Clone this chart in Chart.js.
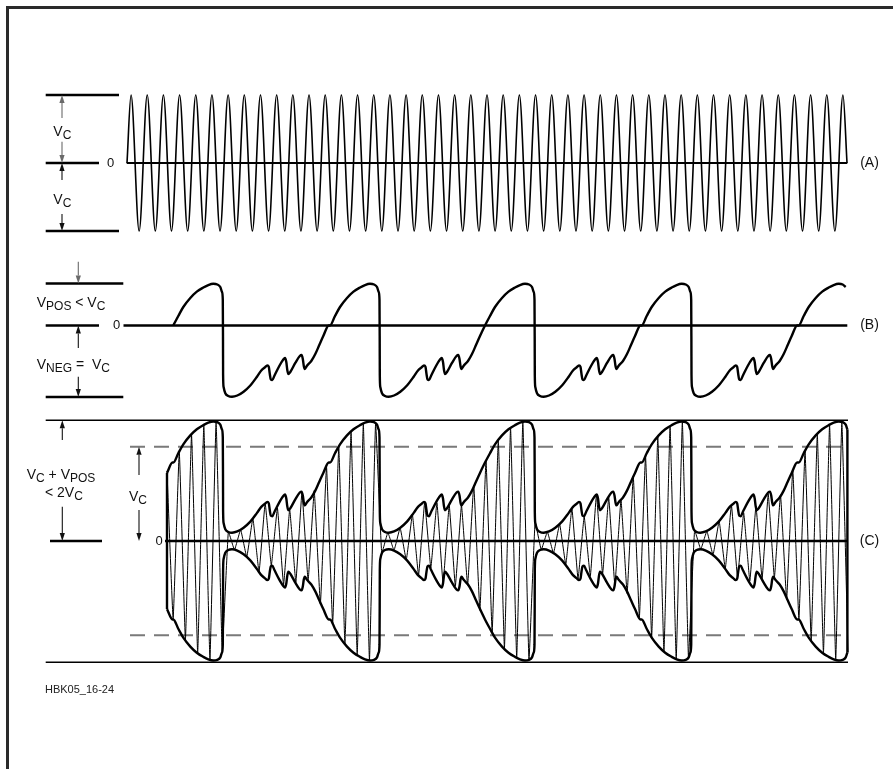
<!DOCTYPE html>
<html>
<head>
<meta charset="utf-8">
<script src="https://cdn.jsdelivr.net/npm/chart.js@4.4.1/dist/chart.umd.min.js"></script>
<style>
  html, body { margin: 0; padding: 0; background: #fff; }
  #wrap { position: relative; width: 893px; height: 769px; overflow: hidden; }
  #wrap canvas { position: absolute; left: 0; top: 0; }
  #frame { position: absolute; left: 6px; top: 6px; right: -10px; bottom: -10px;
           border-left: 3px solid #2a2a2a; border-top: 3px solid #2a2a2a; }
</style>
</head>
<body>
<div id="wrap">
  <canvas id="chart" width="893" height="769"></canvas>
  <div id="frame"></div>
</div>
<script>
// Time axis in µs; every amplitude is in units of the carrier peak V_C.

// (A) unmodulated carrier: successive extremes, starting and ending on zero
const carrierA = [0,
  1,-1, 1,-1, 1,-1, 1,-1, 1,-1, 1,-1, 1,-1, 1,-1, 1,-1, 1,-1, 1,-1,
  1,-1, 1,-1, 1,-1, 1,-1, 1,-1, 1,-1, 1,-1, 1,-1, 1,-1, 1,-1, 1,-1,
  1,-1, 1,-1, 1,-1, 1,-1, 1,-1, 1,-1, 1,-1, 1,-1, 1,-1, 1,-1, 1,-1,
  1,-1, 1,-1, 1,-1, 1,-1, 1,-1, 1,-1, 1,-1, 1,-1, 1,-1, 1,-1, 1,-1,
  1, 0];
const carrierAStart = 0;
const carrierAHalfPeriod = 8.09;

// (B) modulating (speech-like) waveform: one period as [µs from upward zero crossing, value]
const modCycle = [
  [0,0],[5,0.133],[10,0.259],[17,0.385],[23.5,0.473],[30,0.531],[35,0.566],[40,0.583],
  [44,0.573],[47,0.538],[48.7,0.469],[49.5,0.357],[49.7,-0.203],[49.8,-0.692],[50.3,-0.860],
  [52,-0.948],[55,-0.986],[58.7,-0.996],[64,-0.979],[70.3,-0.926],[77,-0.839],[83.7,-0.716],
  [88,-0.629],[91.5,-0.587],[94,-0.559],[95.5,-0.580],[96.5,-0.678],[97.5,-0.755],[99,-0.762],
  [101,-0.706],[106,-0.566],[110,-0.476],[111.7,-0.455],[113,-0.510],[114,-0.622],[115,-0.678],
  [117,-0.650],[122,-0.524],[126.5,-0.427],[128.3,-0.413],[129.5,-0.469],[130.5,-0.566],
  [131.5,-0.608],[133.5,-0.566],[138,-0.496],[142,-0.399],[146,-0.273],[150,-0.147],[155.5,0]
];
const modCycleStarts = [46.3, 203, 358, 514.7, 671.7];
const modWindow = [46.3, 719.9];

// (C) upper envelope of the modulated carrier over one modulation period
const envCycle = [
  [0,0.832],[5,0.931],[10,1.025],[17,1.120],[23.5,1.185],[30,1.229],[35,1.255],[40,1.268],
  [44,1.261],[47,1.234],[48.7,1.182],[49.5,1.099],[49.7,0.681],[49.8,0.315],[50.3,0.190],
  [52,0.124],[55,0.096],[58.7,0.088],[64,0.101],[70.3,0.141],[77,0.205],[83.7,0.298],
  [88,0.362],[91.5,0.393],[94,0.415],[95.5,0.399],[96.5,0.326],[97.5,0.268],[99,0.263],
  [101,0.305],[106,0.409],[110,0.477],[111.7,0.493],[113,0.451],[114,0.367],[115,0.326],
  [117,0.347],[122,0.441],[126.5,0.514],[128.3,0.524],[129.5,0.482],[130.5,0.409],
  [131.5,0.378],[133.5,0.409],[138,0.461],[142,0.534],[146,0.629],[150,0.722],[155.5,0.832]
];
const envCycleStarts = [-110, 46.3, 203, 358, 514.7, 671.7];
const envWindow = [40, 721];

// (C) modulated carrier: successive extremes
const carrierC = [
  0.74,-0.83,0.95,-1.05,1.13,-1.19,1.23,-1.26,1.265,-1.17,
  0.10,-0.095,0.12,-0.17,0.24,-0.33,0.40,-0.26,0.35,-0.465,
  0.335,-0.44,0.52,-0.42,0.535,-0.67,0.79,-0.88,1.00,-1.09,
  1.165,-1.21,1.245,-1.267,1.25,-0.13,0.09,-0.10,0.14,-0.20,
  0.28,-0.365,0.41,-0.285,0.405,-0.45,0.38,-0.48,0.38,-0.47,
  0.59,-0.735,0.85,-0.97,1.07,-1.14,1.20,-1.24,1.262,-1.262,
  0.20,-0.093,0.097,-0.13,0.18,-0.25,0.345,-0.405,0.26,-0.375,
  0.49,-0.35,0.46,-0.47,0.44,-0.556,0.69,-0.81,0.905,-1.02,
  1.105,-1.175,1.217,-1.252,1.267,-1.24,0.115,-0.088,0.105,-0.15,
  0.21,-0.295,0.38,-0.39,0.30,-0.425,0.37,-0.40,0.50,-0.39,
  0.49,-0.62,0.76,-0.832,0.955,-1.055,1.135,-1.19,1.232,-1.26,
  1.265,-1.18
];
const carrierCStart = 40;
const carrierCHalfPeriod = 6.135;

// Reference levels (V_C units)
const levelB = { pos: 0.587, neg: -1 };
const levelC = { max: 1.28, min: -1.286, vc: 1 };

// ---------- series tables ----------
function periodic(shape, starts, w0, w1) {
  const pts = [];
  starts.forEach((s, i) => {
    const next = i + 1 < starts.length ? starts[i + 1] : Infinity;
    shape.forEach(([dx, v]) => {
      const t = s + dx;
      if (t >= w0 && t <= w1 && t < next) pts.push({ x: t, y: v });
    });
  });
  return pts;
}
const nA = carrierA.length;
const seriesA = carrierA.map((v, k) => ({
  x: carrierAStart + (k === 0 ? 0 : k === nA - 1 ? (nA - 2) * carrierAHalfPeriod : (k - 0.5) * carrierAHalfPeriod),
  y: v
}));
const seriesB = periodic(modCycle, modCycleStarts, modWindow[0], modWindow[1]);
const envUpper = periodic(envCycle, envCycleStarts, envWindow[0], envWindow[1]);
const envLower = envUpper.map(p => ({ x: p.x, y: -p.y }));
const envStart = [envUpper[0], envLower[0]];
const envEnd = [envUpper[envUpper.length - 1], envLower[envLower.length - 1]];
const seriesC = carrierC.map((v, k) => ({ x: carrierCStart + k * carrierCHalfPeriod, y: v }));

// ---------- annotation layout (data coordinates) ----------
const refLines = [
  { axis: 'yA', v: 1, from: -81.3, to: -8, w: 2.4 },
  { axis: 'yA', v: 0, from: -81.3, to: -28, w: 2.4 },
  { axis: 'yA', v: -1, from: -81.3, to: -8, w: 2.4 },
  { axis: 'yA', v: 0, from: -0.3, to: 720.3, w: 2.2 },
  { axis: 'yB', v: levelB.pos, from: -81.3, to: -3.7, w: 2.4 },
  { axis: 'yB', v: 0, from: -81.3, to: -28, w: 2.4 },
  { axis: 'yB', v: levelB.neg, from: -81.3, to: -3.7, w: 2.4 },
  { axis: 'yB', v: 0, from: -3.5, to: 720.3, w: 2.4 },
  { axis: 'yC', v: levelC.max, from: -81.3, to: 721, w: 1.4 },
  { axis: 'yC', v: levelC.min, from: -81.3, to: 721, w: 1.4 },
  { axis: 'yC', v: levelC.vc, from: 3, to: 721, w: 2, color: '#7a7a7a', dash: [15, 9] },
  { axis: 'yC', v: -levelC.vc, from: 3, to: 721, w: 2, color: '#7a7a7a', dash: [15, 9] },
  { axis: 'yC', v: 0, from: -77, to: -25, w: 2.4 },
  { axis: 'yC', v: 0, from: 38, to: 721, w: 2.4 }
];
const arrows = [
  { axis: 'yA', t: -65, from: 0.662, to: 1, color: '#6a6a6a' },
  { axis: 'yA', t: -65, from: 0.313, to: 0, color: '#6a6a6a' },
  { axis: 'yA', t: -65, from: -0.25, to: 0, color: '#111' },
  { axis: 'yA', t: -65, from: -0.75, to: -1, color: '#111' },
  { axis: 'yB', t: -48.7, from: 0.892, to: levelB.pos, color: '#6a6a6a' },
  { axis: 'yB', t: -48.7, from: -0.315, to: 0, color: '#111' },
  { axis: 'yB', t: -48.7, from: -0.716, to: -1, color: '#111' },
  { axis: 'yC', t: -64.7, from: 1.071, to: levelC.max, color: '#111' },
  { axis: 'yC', t: -64.7, from: 0.364, to: 0, color: '#111' },
  { axis: 'yC', t: 12, from: 0.70, to: 1, color: '#111' },
  { axis: 'yC', t: 12, from: 0.329, to: 0, color: '#111' }
];
const richLabels = [
  { axis: 'yA', t: -73.7, v: 0.46, parts: [['V', 0], ['C', 1]] },
  { axis: 'yA', t: -73.7, v: -0.544, parts: [['V', 0], ['C', 1]] },
  { axis: 'yB', t: -90.3, v: 0.308, parts: [['V', 0], ['POS', 1], [' < V', 0], ['C', 1]] },
  { axis: 'yB', t: -90.3, v: -0.552, parts: [['V', 0], ['NEG', 1], [' =  V', 0], ['C', 1]] },
  { axis: 'yC', t: -100.3, v: 0.70, parts: [['V', 0], ['C', 1], [' + V', 0], ['POS', 1]] },
  { axis: 'yC', t: -82, v: 0.509, parts: [['< 2V', 0], ['C', 1]] },
  { axis: 'yC', t: 2, v: 0.467, parts: [['V', 0], ['C', 1]] }
];
const plainLabels = [
  { axis: 'yA', t: -16.3, v: 0, text: '0', size: 13, align: 'center' },
  { axis: 'yB', t: -10.3, v: 0, text: '0', size: 13, align: 'center' },
  { axis: 'yC', t: 32, v: 0, text: '0', size: 13, align: 'center' },
  { axis: 'yA', t: 742.5, v: 0, text: '(A)', size: 14, align: 'center' },
  { axis: 'yB', t: 742.5, v: 0, text: '(B)', size: 14, align: 'center' },
  { axis: 'yC', t: 742.5, v: 0, text: '(C)', size: 14, align: 'center' },
  { axis: 'yC', t: -82, v: -1.585, text: 'HBK05_16-24', size: 11, align: 'left', color: '#222' }
];

const FONT = '"Liberation Sans", Arial, Helvetica, sans-serif';

const annotations = {
  id: 'annotations',
  beforeDatasetsDraw(chart) {
    const { ctx, scales } = chart;
    ctx.save();
    refLines.forEach(r => {
      const y = scales[r.axis].getPixelForValue(r.v);
      ctx.beginPath();
      ctx.lineWidth = r.w;
      ctx.strokeStyle = r.color || '#000';
      ctx.setLineDash(r.dash || []);
      ctx.moveTo(scales.x.getPixelForValue(r.from), y);
      ctx.lineTo(scales.x.getPixelForValue(r.to), y);
      ctx.stroke();
    });
    ctx.restore();
  },
  afterDatasetsDraw(chart) {
    const { ctx, scales } = chart;
    ctx.save();
    arrows.forEach(a => {
      const x = scales.x.getPixelForValue(a.t);
      const y0 = scales[a.axis].getPixelForValue(a.from);
      const y1 = scales[a.axis].getPixelForValue(a.to);
      const dir = Math.sign(y1 - y0), head = 8, half = 2.6;
      ctx.strokeStyle = a.color; ctx.fillStyle = a.color; ctx.lineWidth = 1.1;
      ctx.beginPath(); ctx.moveTo(x, y0); ctx.lineTo(x, y1 - dir * head); ctx.stroke();
      ctx.beginPath(); ctx.moveTo(x, y1);
      ctx.lineTo(x - half, y1 - dir * head); ctx.lineTo(x + half, y1 - dir * head);
      ctx.closePath(); ctx.fill();
    });
    ctx.fillStyle = '#111';
    ctx.textBaseline = 'middle';
    richLabels.forEach(l => {
      let x = scales.x.getPixelForValue(l.t);
      const y = scales[l.axis].getPixelForValue(l.v);
      l.parts.forEach(([s, sub]) => {
        ctx.font = (sub ? '12px ' : '14px ') + FONT;
        ctx.textAlign = 'left';
        ctx.fillText(s, x, sub ? y + 3.5 : y);
        x += ctx.measureText(s).width;
      });
    });
    plainLabels.forEach(l => {
      ctx.font = l.size + 'px ' + FONT;
      ctx.textAlign = l.align;
      ctx.fillStyle = l.color || '#111';
      ctx.fillText(l.text, scales.x.getPixelForValue(l.t), scales[l.axis].getPixelForValue(l.v));
    });
    ctx.restore();
  }
};

const line = (data, yAxisID, width, extra) => Object.assign({
  data, yAxisID, borderColor: '#000', borderWidth: width, pointRadius: 0,
  fill: false, cubicInterpolationMode: 'monotone', order: 1
}, extra || {});

new Chart(document.getElementById('chart'), {
  type: 'line',
  data: {
    datasets: [
      line(envUpper, 'yC', 2.4, { order: 0 }),
      line(envLower, 'yC', 2.4, { order: 0 }),
      line(envStart, 'yC', 2.4, { order: 0, cubicInterpolationMode: 'default', tension: 0 }),
      line(envEnd, 'yC', 2.4, { order: 0, cubicInterpolationMode: 'default', tension: 0 }),
      line(seriesC, 'yC', 1.0, { order: 3, cubicInterpolationMode: 'default', tension: 0.08 }),
      line(seriesA, 'yA', 1.6),
      line(seriesB, 'yB', 2.4)
    ]
  },
  options: {
    responsive: false,
    animation: false,
    events: [],
    layout: { padding: 0 },
    plugins: { legend: { display: false }, tooltip: { enabled: false } },
    scales: {
      x: { type: 'linear', min: -127, max: 766, display: false },
      yA: { type: 'linear', min: -8.9118, max: 2.3971, display: false },
      yB: { type: 'linear', min: -6.2028, max: 4.5524, display: false },
      yC: { type: 'linear', min: -2.4178, max: 5.7370, display: false }
    }
  },
  plugins: [annotations]
});
</script>
</body>
</html>
